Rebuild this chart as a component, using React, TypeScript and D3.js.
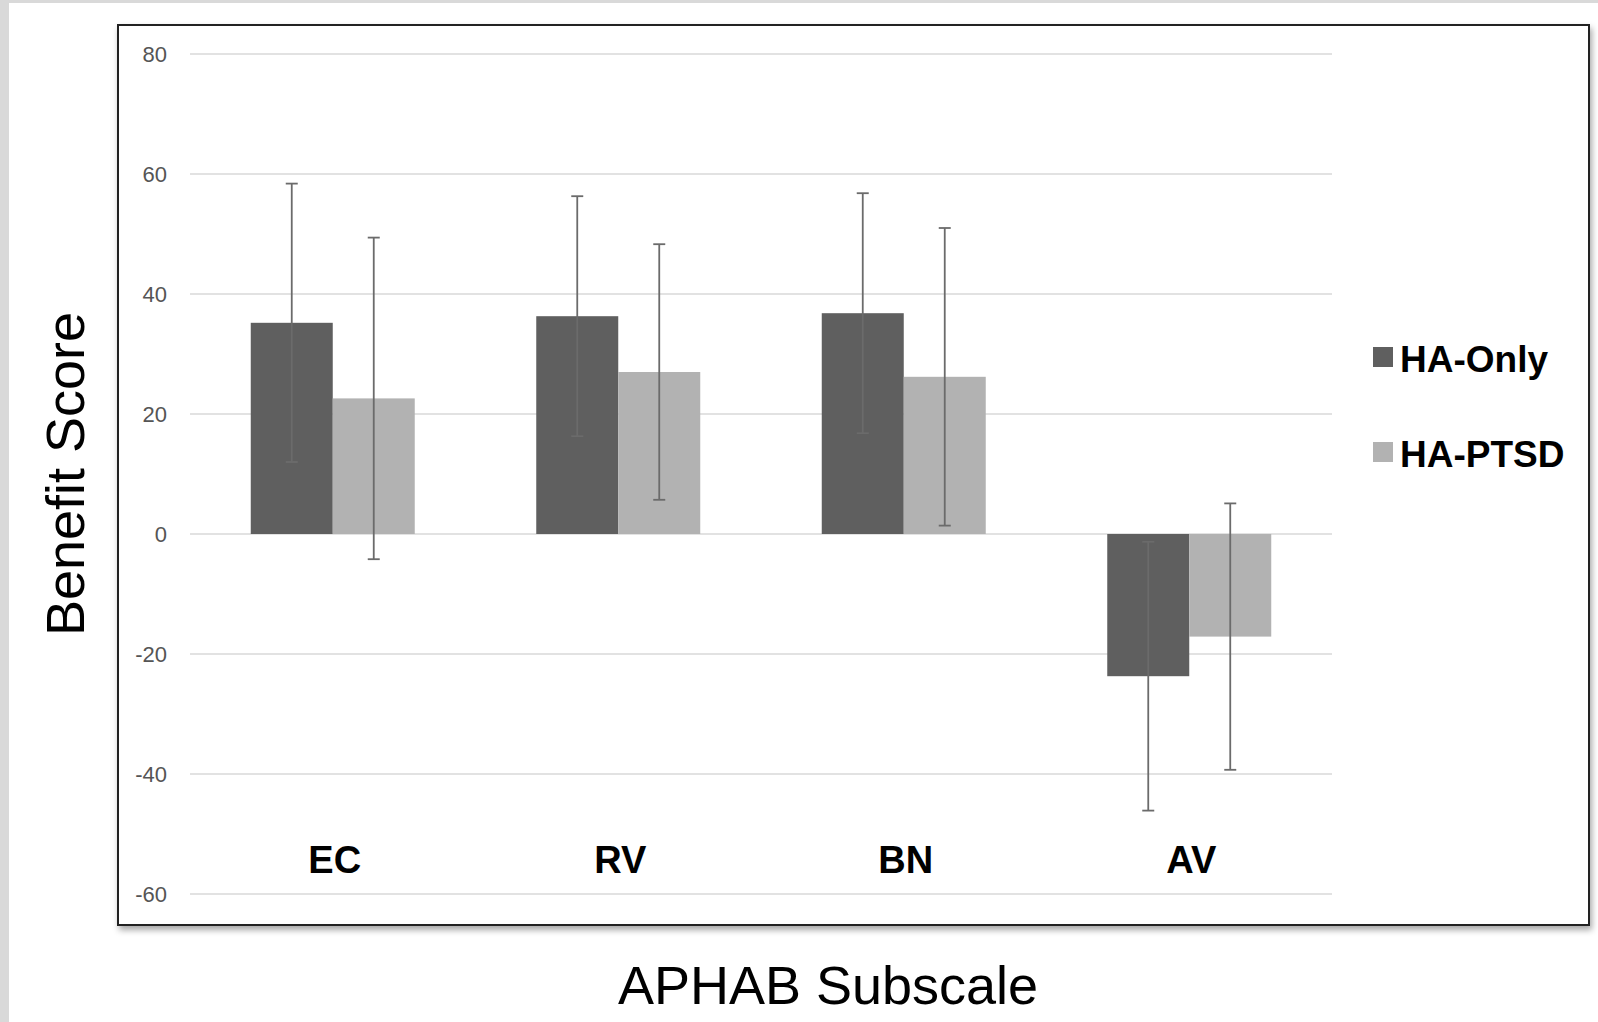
import React, { useEffect, useRef } from "react";
import * as d3 from "d3";

const categories = ["EC", "RV", "BN", "AV"];
const seriesNames = ["HA-Only", "HA-PTSD"];
const haOnlyMeans = [35.2, 36.3, 36.8, -23.7];
const haOnlyErrors = [23.2, 20.0, 20.0, 22.4];
const haPtsdMeans = [22.6, 27.0, 26.2, -17.1];
const haPtsdErrors = [26.8, 21.3, 24.8, 22.2];
const yTicks = [-60, -40, -20, 0, 20, 40, 60, 80];
const seriesColors = ["#5f5f5f", "#b2b2b2"];

export default function App() {
  const svgRef = useRef<SVGSVGElement>(null);

  useEffect(() => {
    const width = 1598;
    const height = 1022;
    const svg = d3.select(svgRef.current);
    svg.selectAll("*").remove();

    // page frame
    svg.append("rect").attr("width", width).attr("height", height).attr("fill", "#d9d9d9");
    svg.append("rect").attr("x", 9).attr("y", 3).attr("width", width - 9).attr("height", height - 3).attr("fill", "#fff");

    const defs = svg.append("defs");
    defs.append("filter")
      .attr("id", "shadow")
      .attr("x", "-5%").attr("y", "-5%").attr("width", "110%").attr("height", "110%")
      .append("feDropShadow")
      .attr("dx", 2).attr("dy", 4).attr("stdDeviation", 3)
      .attr("flood-color", "#000").attr("flood-opacity", 0.35);

    // chart box
    svg.append("rect")
      .attr("x", 118).attr("y", 25).attr("width", 1471).attr("height", 900)
      .attr("fill", "#fff").attr("stroke", "#222").attr("stroke-width", 2)
      .attr("filter", "url(#shadow)");

    const plot = { left: 190, right: 1332, top: 54, bottom: 894 };

    const yScale = d3.scaleLinear().domain([-60, 80]).range([plot.bottom, plot.top]);
    const x0 = d3.scaleBand<string>()
      .domain(categories)
      .range([plot.left, plot.right])
      .paddingInner(0.4256)
      .paddingOuter(0.2128);
    const x1 = d3.scaleBand<string>().domain(seriesNames).range([0, x0.bandwidth()]).padding(0);

    // gridlines + tick labels
    const grid = svg.append("g");
    grid.selectAll("line")
      .data(yTicks)
      .enter()
      .append("line")
      .attr("x1", plot.left).attr("x2", plot.right)
      .attr("y1", d => yScale(d)).attr("y2", d => yScale(d))
      .attr("stroke", "#d9d9d9").attr("stroke-width", 1.5);
    grid.selectAll("text")
      .data(yTicks)
      .enter()
      .append("text")
      .attr("x", 167)
      .attr("y", d => yScale(d) + 8)
      .attr("text-anchor", "end")
      .style("font-family", "'Liberation Sans Narrow', 'Arial Narrow', sans-serif")
      .style("font-size", "22px")
      .attr("fill", "#555")
      .text(d => d);

    const rows = categories.flatMap((c, i) => [
      { cat: c, series: seriesNames[0], value: haOnlyMeans[i], err: haOnlyErrors[i], color: seriesColors[0] },
      { cat: c, series: seriesNames[1], value: haPtsdMeans[i], err: haPtsdErrors[i], color: seriesColors[1] },
    ]);

    // bars
    svg.append("g").selectAll("rect")
      .data(rows)
      .enter()
      .append("rect")
      .attr("x", d => x0(d.cat)! + x1(d.series)!)
      .attr("y", d => yScale(Math.max(0, d.value)))
      .attr("width", x1.bandwidth())
      .attr("height", d => Math.abs(yScale(d.value) - yScale(0)))
      .attr("fill", d => d.color);

    // error bars
    const errG = svg.append("g").attr("stroke", "#6b6b6b").attr("stroke-width", 1.8);
    const capHalf = 6;
    rows.forEach(d => {
      const cx = x0(d.cat)! + x1(d.series)! + x1.bandwidth() / 2;
      const yTop = yScale(d.value + d.err);
      const yBot = yScale(d.value - d.err);
      errG.append("line").attr("x1", cx).attr("x2", cx).attr("y1", yTop).attr("y2", yBot);
      errG.append("line").attr("x1", cx - capHalf).attr("x2", cx + capHalf).attr("y1", yTop).attr("y2", yTop);
      errG.append("line").attr("x1", cx - capHalf).attr("x2", cx + capHalf).attr("y1", yBot).attr("y2", yBot);
    });

    // category labels
    svg.append("g").selectAll("text")
      .data(categories)
      .enter()
      .append("text")
      .attr("x", d => x0(d)! + x0.bandwidth() / 2 + 2)
      .attr("y", 873)
      .attr("text-anchor", "middle")
      .style("font-family", "'Liberation Sans', Arial, sans-serif")
      .style("font-weight", "bold")
      .style("font-size", "38px")
      .attr("fill", "#000")
      .text(d => d);

    // legend
    const legend = svg.append("g").selectAll("g")
      .data(seriesNames)
      .enter()
      .append("g")
      .attr("transform", (d, i) => `translate(1373, ${347 + i * 95})`);
    legend.append("rect").attr("width", 20).attr("height", 20).attr("fill", (d, i) => seriesColors[i]);
    legend.append("text")
      .attr("x", 27).attr("y", 25)
      .style("font-family", "'Liberation Sans', Arial, sans-serif")
      .style("font-weight", "bold")
      .style("font-size", "37px")
      .attr("fill", "#000")
      .text(d => d);

    // axis titles
    svg.append("text")
      .attr("transform", "translate(84, 474) rotate(-90)")
      .attr("text-anchor", "middle")
      .style("font-family", "'Liberation Sans', Arial, sans-serif")
      .style("font-size", "54px")
      .attr("fill", "#000")
      .text("Benefit Score");

    svg.append("text")
      .attr("x", 828)
      .attr("y", 1004)
      .attr("text-anchor", "middle")
      .style("font-family", "'Liberation Sans', Arial, sans-serif")
      .style("font-size", "54px")
      .attr("fill", "#000")
      .text("APHAB Subscale");
  }, []);

  return (
    <svg
      ref={svgRef}
      width={1598}
      height={1022}
      style={{ position: "absolute", left: 0, top: 0, display: "block" }}
    />
  );
}
